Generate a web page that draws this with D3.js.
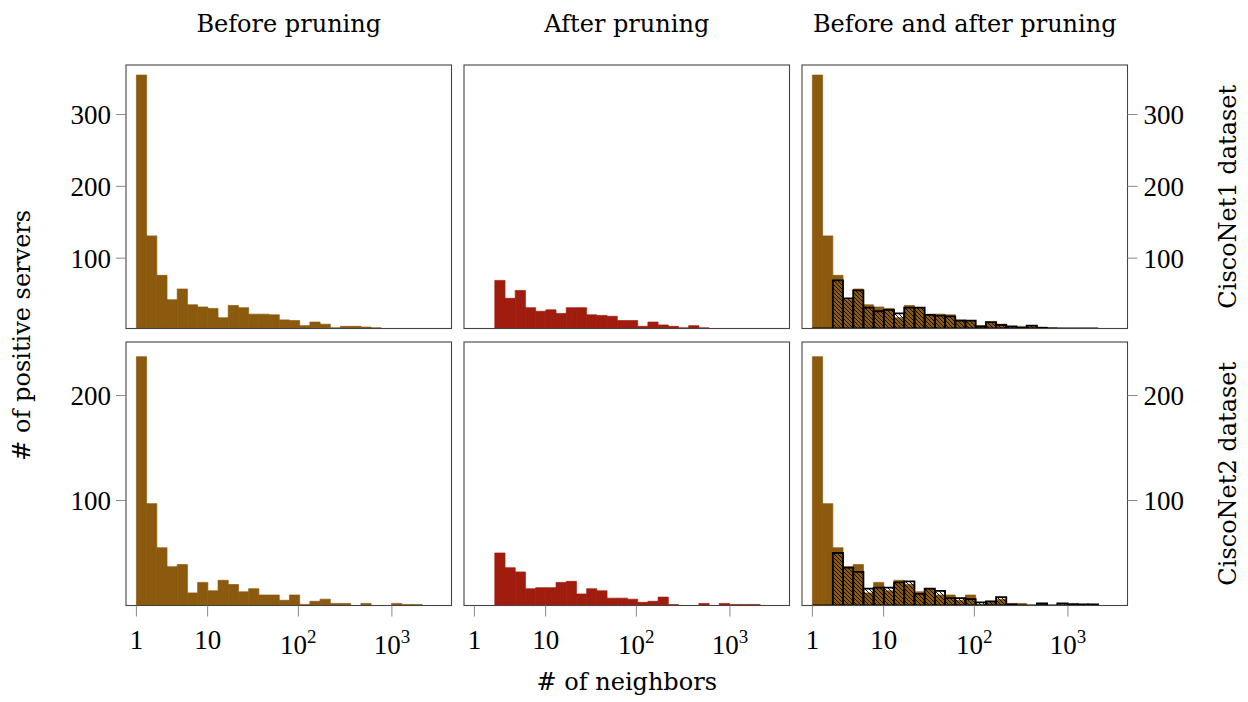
<!DOCTYPE html>
<html><head><meta charset="utf-8">
<script src="https://cdn.jsdelivr.net/npm/d3@7"></script>
<style>body{margin:0;background:#fff}</style>
</head><body><svg id="c" width="1248" height="702"></svg>
<script>
// ---------- data ----------
const colTitles = ["Before pruning", "After pruning", "Before and after pruning"];
const rowLabels = ["CiscoNet1 dataset", "CiscoNet2 dataset"];
const xTitle = "# of neighbors";
const yTitle = "# of positive servers";
const xTickValues = [1, 10, 100, 1000];
const xTickBase = ["1", "10", "10", "10"];
const xTickExp = ["", "", "2", "3"];
const yTicksRow1 = [100, 200, 300];
const yTicksRow2 = [100, 200];
// 28 logarithmic bins from 1 to ~2100 neighbors
const binCount = 28;
const binFirst = 1, binLast = 2100;
const before1 = [355, 131, 76, 42, 57, 35, 32, 30, 17, 34, 31, 22, 22, 21, 14, 13, 6, 11, 8, 3, 5, 5, 4, 3, 2, 2, 2, 2];
const after1  = [0, 0, 69, 44, 55, 31, 26, 28, 23, 31, 31, 21, 20, 19, 13, 13, 5, 11, 7, 5, 3, 6, 3, 2, 2, 2, 2, 2];
const before2 = [237, 97, 55, 37, 39, 12, 22, 14, 24, 20, 13, 16, 10, 10, 5, 10, 1, 4, 6, 2, 2, 0, 2, 0, 0, 2, 1, 1];
const after2  = [0, 0, 50, 36, 32, 16, 17, 17, 22, 23, 11, 16, 14, 7, 7, 6, 3, 4, 8, 1, 0, 0, 2, 0, 2, 1, 1, 1];

// ---------- layout / style ----------
const brown = "#8B5A0E", red = "#A01C0E";
const colX = [126, 464, 802], rowY = [65, 342];
const pw = 325.5, ph = 263.5;
const wordFont = "DejaVu Serif", numFont = "Liberation Serif";

const svg = d3.select("#c");
const defs = svg.append("defs");
defs.append("pattern").attr("id", "hatch").attr("patternUnits", "userSpaceOnUse")
  .attr("width", 4).attr("height", 4)
  .append("path").attr("d", "M-1,-1 L5,5 M-1,3 L1,5 M3,-1 L5,1")
  .attr("stroke", "#000").attr("stroke-width", 0.9);

const x = d3.scaleSymlog().constant(0.9).domain([0.572, 4317]).range([0, pw]);
const yScales = [
  d3.scaleLinear().domain([2, 369]).range([ph, 0]).clamp(true),
  d3.scaleLinear().domain([0, 251]).range([ph, 0]).clamp(true)
];
const yTicks = [yTicksRow1, yTicksRow2];
const rows = [[before1, after1], [before2, after2]];

// bin edges, equal width in the axis' log space
const p0 = x(binFirst), p1 = x(binLast);
const edges = d3.range(binCount + 1).map(i => x.invert(p0 + i * (p1 - p0) / binCount));

function barPath(y, v, i) {
  const xa = x(edges[i]), xb = x(edges[i + 1]);
  return `M${xa},${y(0)}V${y(v)}H${xb}V${y(0)}Z`;
}

rows.forEach(([bef, aft], r) => {
  const y = yScales[r];
  for (let c = 0; c < 3; c++) {
    const g = svg.append("g").attr("transform", `translate(${colX[c]},${rowY[r]})`);
    const cid = `clip${r}${c}`;
    defs.append("clipPath").attr("id", cid).append("rect").attr("width", pw).attr("height", ph);
    const bars = g.append("g").attr("clip-path", `url(#${cid})`);
    const main = c === 1 ? aft : bef;
    const col = c === 1 ? red : brown;
    bars.selectAll("path.b").data(main).join("path").attr("class", "b")
      .attr("d", (v, i) => barPath(y, v, i))
      .attr("fill", col).attr("stroke", col).attr("stroke-width", 0.7);
    if (c === 2) {
      bars.selectAll("path.h").data(aft).join("path").attr("class", "h")
        .attr("d", (v, i) => barPath(y, v, i))
        .attr("fill", "url(#hatch)").attr("stroke", "#000").attr("stroke-width", 1.8)
        .attr("stroke-linejoin", "miter");
    }
    // frame
    g.append("rect").attr("width", pw).attr("height", ph)
      .attr("fill", "none").attr("stroke", "#444").attr("stroke-width", 1.1);
    // y ticks
    if (c === 0 || c === 2) {
      const left = c === 0;
      yTicks[r].forEach(t => {
        const yy = y(t);
        g.append("line").attr("x1", left ? -10 : pw).attr("x2", left ? 0 : pw + 10)
          .attr("y1", yy).attr("y2", yy).attr("stroke", "#888").attr("stroke-width", 1);
        g.append("text").attr("x", left ? -15 : pw + 16).attr("y", yy).attr("dy", "0.35em")
          .attr("text-anchor", left ? "end" : "start")
          .attr("font-family", numFont).attr("font-size", 27).text(t);
      });
    }
    // x ticks (bottom row only)
    if (r === 1) {
      xTickValues.forEach((t, k) => {
        const xx = x(t);
        g.append("line").attr("x1", xx).attr("x2", xx).attr("y1", ph).attr("y2", ph + 11)
          .attr("stroke", "#888").attr("stroke-width", 1);
        const tx = g.append("text").attr("x", xx).attr("y", xTickExp[k] ? ph + 48 : ph + 43)
          .attr("text-anchor", "middle").attr("font-family", numFont).attr("font-size", 27);
        tx.append("tspan").text(xTickBase[k]);
        if (xTickExp[k]) tx.append("tspan").attr("dy", -11).attr("font-size", 19).text(xTickExp[k]);
      });
    }
    if (r === 0) {
      svg.append("text").attr("x", colX[c] + pw / 2).attr("y", 32).attr("text-anchor", "middle")
        .attr("font-family", wordFont).attr("font-size", 24).text(colTitles[c]);
    }
  }
  // row labels on the right
  const cy = rowY[r] + ph / 2;
  svg.append("text").attr("transform", `translate(1228,${cy}) rotate(-90)`)
    .attr("text-anchor", "middle").attr("dy", "0.35em")
    .attr("font-family", wordFont).attr("font-size", 24).text(rowLabels[r]);
});

svg.append("text").attr("x", colX[1] + pw / 2).attr("y", 690).attr("text-anchor", "middle")
  .attr("font-family", wordFont).attr("font-size", 24).text(xTitle);
svg.append("text").attr("transform", `translate(22,${(rowY[0] + rowY[1] + ph) / 2}) rotate(-90)`)
  .attr("text-anchor", "middle").attr("dy", "0.35em")
  .attr("font-family", wordFont).attr("font-size", 24).text(yTitle);
</script></body></html>
